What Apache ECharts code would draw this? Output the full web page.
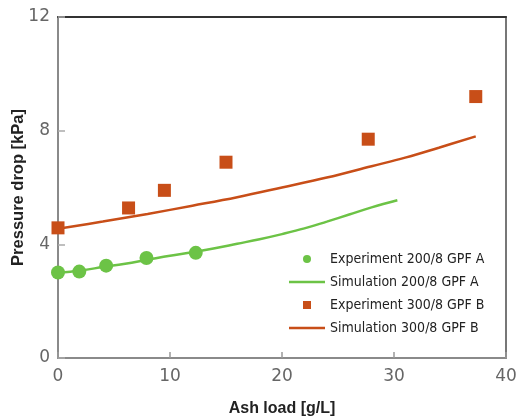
<!DOCTYPE html>
<html>
<head>
<meta charset="utf-8">
<script src="https://cdn.jsdelivr.net/npm/echarts@6/dist/echarts.min.js"></script>
<style>
  html, body { margin: 0; padding: 0; background: #fff; }
  #chart { width: 519px; height: 419px; }
</style>
</head>
<body>
<div id="chart"></div>
<script>
// Ash load [g/L] vs. pressure drop [kPa]
const expA_x = [0, 1.9, 4.3, 7.9, 12.3];
const expA_y = [3.01, 3.04, 3.25, 3.52, 3.70];

const simA_x = [0, 2, 4, 6, 8, 10, 12, 14, 16, 18, 20, 22, 24, 26, 28, 30.3];
const simA_y = [3.0, 3.08, 3.2, 3.32, 3.46, 3.6, 3.72, 3.86, 4.02, 4.18, 4.36, 4.56, 4.8, 5.05, 5.3, 5.55];

const expB_x = [0, 6.3, 9.5, 15.0, 27.7, 37.3];
const expB_y = [4.58, 5.28, 5.90, 6.89, 7.70, 9.20];

const simB_x = [0, 4, 8, 12, 16, 20, 24, 28, 31, 34, 37.3];
const simB_y = [4.55, 4.8, 5.07, 5.36, 5.66, 6.0, 6.35, 6.75, 7.05, 7.4, 7.8];

const seriesNames = [
  'Experiment 200/8 GPF A',
  'Simulation 200/8 GPF A',
  'Experiment 300/8 GPF B',
  'Simulation 300/8 GPF B'
];

const xTicks = [0, 10, 20, 30, 40];
const yTicks = [0, 4, 8, 12];

const GREEN = '#6cc346';
const ORANGE = '#c84e18';

const zip = (xs, ys) => xs.map((x, i) => [x, ys[i]]);

const chart = echarts.init(document.getElementById('chart'), null, { renderer: 'canvas' });

const tickFont = { fontFamily: 'DejaVu Sans', fontSize: 17, color: '#666' };
const nameFont = { fontFamily: 'Liberation Sans', fontWeight: 'bold', fontSize: 16, color: '#222' };
// legend glyphs: a small square marker and a thin horizontal stroke
const SQUARE = 'path://M0,0L10,0L10,10L0,10Z';
const STROKE = 'path://M0,0L36,0L36,2.6L0,2.6Z';

chart.setOption({
  animation: false,
  backgroundColor: '#ffffff',
  grid: { left: 58, right: 13, top: 17, bottom: 61, containLabel: false, outerBoundsMode: 'none' },
  xAxis: [
    {
      type: 'value',
      min: xTicks[0], max: xTicks[xTicks.length - 1], interval: 10,
      name: 'Ash load [g/L]',
      nameLocation: 'middle',
      nameGap: 43,
      nameTextStyle: nameFont,
      axisLine: { onZero: false, lineStyle: { color: '#8a8a8a', width: 2 } },
      axisTick: { inside: true, length: 6, lineStyle: { color: '#999', width: 1.5 } },
      axisLabel: Object.assign({ margin: 10 }, tickFont),
      splitLine: { show: false }
    },
    {
      type: 'value', position: 'top',
      min: xTicks[0], max: xTicks[xTicks.length - 1],
      axisLine: { show: true, onZero: false, lineStyle: { color: '#333', width: 2 } },
      axisTick: { show: false }, axisLabel: { show: false }, splitLine: { show: false }
    }
  ],
  yAxis: [
    {
      type: 'value',
      min: yTicks[0], max: yTicks[yTicks.length - 1], interval: 4,
      name: 'Pressure drop [kPa]',
      nameLocation: 'middle',
      nameGap: 31,
      nameMoveOverlap: false,
      nameTextStyle: Object.assign({}, nameFont, { fontSize: 16.5 }),
      axisLine: { show: true, onZero: false, lineStyle: { color: '#8a8a8a', width: 2 } },
      axisTick: { show: true, inside: true, length: 7, lineStyle: { color: '#aaa', width: 1.5 } },
      axisLabel: Object.assign({ margin: 8 }, tickFont),
      splitLine: { show: false }
    },
    {
      type: 'value', position: 'right',
      min: yTicks[0], max: yTicks[yTicks.length - 1],
      axisLine: { show: true, onZero: false, lineStyle: { color: '#777', width: 2 } },
      axisTick: { show: false }, axisLabel: { show: false }, splitLine: { show: false }
    }
  ],
  legend: {
    orient: 'vertical',
    left: 284,
    top: 247,
    itemWidth: 36,
    itemHeight: 8,
    itemGap: 9,
    symbolKeepAspect: true,
    textStyle: {
      fontFamily: "'Liberation Sans Narrow', 'DejaVu Sans Condensed', 'Liberation Sans', sans-serif",
      fontSize: 14, color: '#222'
    },
    data: [
      { name: seriesNames[0], icon: 'circle' },
      { name: seriesNames[1], icon: STROKE },
      { name: seriesNames[2], icon: SQUARE },
      { name: seriesNames[3], icon: STROKE }
    ]
  },
  series: [
    {
      name: seriesNames[1], type: 'line',
      data: zip(simA_x, simA_y),
      smooth: 0.4, symbol: 'none', showSymbol: false,
      lineStyle: { color: GREEN, width: 2.5 },
      itemStyle: { color: GREEN },
      z: 2
    },
    {
      name: seriesNames[3], type: 'line',
      data: zip(simB_x, simB_y),
      smooth: 0.4, symbol: 'none', showSymbol: false,
      lineStyle: { color: ORANGE, width: 2.5 },
      itemStyle: { color: ORANGE },
      z: 2
    },
    {
      name: seriesNames[0], type: 'scatter',
      data: zip(expA_x, expA_y),
      symbol: 'circle', symbolSize: 14,
      itemStyle: { color: GREEN, opacity: 1 },
      z: 3
    },
    {
      name: seriesNames[2], type: 'scatter',
      data: zip(expB_x, expB_y),
      symbol: 'rect', symbolSize: 13,
      itemStyle: { color: ORANGE, opacity: 1 },
      z: 3
    }
  ]
});
</script>
</body>
</html>
